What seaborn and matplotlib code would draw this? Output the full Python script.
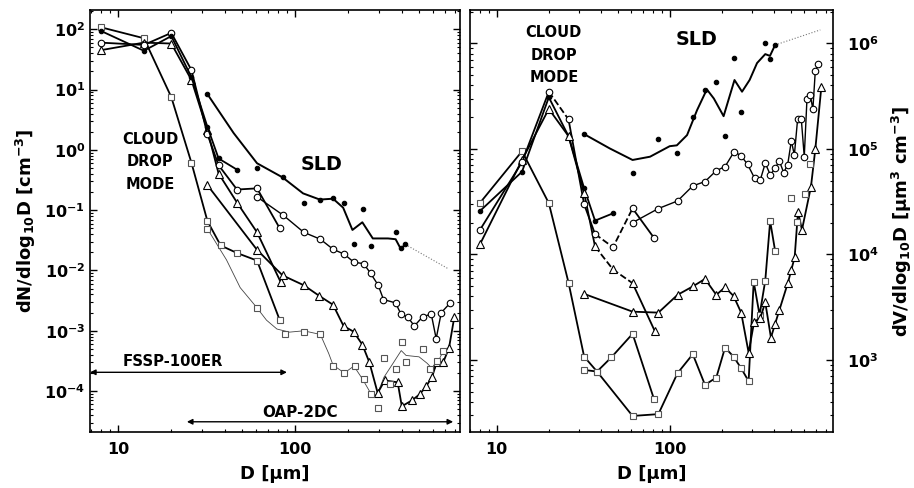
import matplotlib
matplotlib.use('Agg')
import matplotlib.pyplot as plt
import seaborn as sns
from matplotlib.ticker import NullFormatter, LogLocator

# ---------------- left panel: dN/dlog10D [cm^-3] ----------------
# FSSP (cloud drop mode) series
n_fssp_sq_d = [8, 14, 20, 26, 32, 38, 47, 61, 82]
n_fssp_sq = [108, 71, 7.5, 0.61, 0.066, 0.026, 0.0195, 0.0146, 0.0015]
n_fssp_tri_d = [8, 14, 20, 26, 32, 37, 47, 61, 83]
n_fssp_tri = [45, 60, 58, 14.4, 2.1, 0.405, 0.134, 0.043, 0.0064]
n_fssp_oc_d = [8, 14, 20, 26, 32, 37, 47, 61, 82]
n_fssp_oc = [60, 55, 87, 21, 1.82, 0.557, 0.22, 0.23, 0.05]
n_fssp_fc_d = [8, 14, 20, 26, 32, 37, 47]
n_fssp_fc = [94, 44, 77, 16, 2.4, 0.72, 0.47]

# OAP-2DC series
n_2dc_oc_d = [61, 86, 112, 139, 164, 190, 215, 244, 267, 295, 316, 370, 396,
              433, 472, 525, 588, 627, 670, 753]
n_2dc_oc = [0.166, 0.082, 0.043, 0.033, 0.0225, 0.0186, 0.0137, 0.013, 0.009,
            0.0057, 0.0033, 0.0029, 0.0019, 0.0017, 0.0012, 0.0017, 0.0019,
            0.00074, 0.002, 0.0029]
n_2dc_tri_d = [32, 61, 85, 112, 137, 164, 188, 214, 240, 263, 293, 321, 380,
               401, 457, 507, 550, 594, 631, 687, 741, 794]
n_2dc_tri = [0.26, 0.022, 0.0083, 0.0057, 0.0038, 0.0027, 0.0012, 0.00097,
             0.00059, 0.0003, 0.000093, 0.00015, 0.00014, 0.000056, 0.00007,
             0.000089, 0.00012, 0.00017, 0.0003, 0.0003, 0.00052, 0.0017]
n_2dc_sq_d = [32, 61, 88, 112, 139, 164, 190, 217, 244, 267, 293, 317, 343,
              371, 401, 423, 528, 579, 635, 687]
n_2dc_sq = [0.049, 0.0024, 0.00089, 0.00097, 0.00087, 0.00026, 0.0002,
            0.00026, 0.00016, 0.000089, 0.000052, 0.00035, 0.00013, 0.00023,
            0.00066, 0.0003, 0.00049, 0.00023, 0.00032, 0.00046]
n_2dc_sq_fit_d = [32, 41, 49, 61, 69, 79, 93, 112, 139, 155, 164, 190, 215,
                  240, 267, 290, 318, 358, 398, 424, 502, 557, 610, 668, 724]
n_2dc_sq_fit = [0.049, 0.015, 0.0052, 0.0024, 0.0015, 0.00107, 0.00095, 0.001,
                0.00087, 0.00042, 0.00027, 0.0002, 0.00026, 0.00016, 0.000093,
                0.000085, 0.00017, 0.00029, 0.00047, 0.00039, 0.00037,
                0.00029, 0.00022, 0.00039, 0.00052]
n_sld_d = [32, 61, 86, 113, 138, 164, 190, 214, 243, 267, 370, 395, 420]
n_sld = [8.4, 0.50, 0.36, 0.13, 0.15, 0.16, 0.13, 0.027, 0.105, 0.025, 0.043,
         0.024, 0.027]
n_sld_fit_d = [32, 45, 61, 85, 111, 138, 164, 187, 211, 240, 275, 335, 370,
               395, 420]
n_sld_fit = [8.4, 1.9, 0.6, 0.35, 0.19, 0.15, 0.155, 0.11, 0.047, 0.063,
             0.034, 0.034, 0.033, 0.023, 0.027]
n_sld_ext_d = [420, 733]
n_sld_ext = [0.027, 0.0107]

# ---------------- right panel: dV/dlog10D [um^3 cm^-3] ----------------
v_fssp_sq_d = [8, 14, 20, 26, 32, 38, 46, 61, 81]
v_fssp_sq = [30800, 95000, 30600, 5400, 1077, 777, 1060, 1770, 430]
v_fssp_tri_d = [8, 14, 20, 26, 32, 37, 47, 61, 82]
v_fssp_tri = [12500, 78500, 239000, 132000, 38400, 11900, 7200, 5340, 1880]
v_fssp_oc_d = [8, 14, 20, 26, 32, 37, 47, 61, 81]
v_fssp_oc = [17100, 75000, 348000, 190000, 29900, 15600, 11700, 27300, 14400]
v_fssp_fc_d = [8, 14, 20, 26, 32, 37, 47]
v_fssp_fc = [25800, 60800, 308000, 132000, 42400, 20900, 24500]

v_2dc_oc_d = [61, 86, 111, 136, 160, 186, 209, 236, 259, 282, 310, 334, 357,
              382, 407, 431, 456, 481, 505, 526, 549, 577, 600, 622, 650, 673,
              695, 721]
v_2dc_oc = [20000, 27200, 32100, 44600, 49000, 62200, 67900, 94200, 85700,
            71400, 52600, 50700, 73100, 56600, 65500, 76700, 59600, 70500,
            119000, 87400, 190000, 190000, 84300, 295000, 324000, 237000,
            547000, 632000]
v_2dc_tri_d = [32, 61, 86, 111, 137, 160, 186, 209, 234, 259, 286, 308, 334,
               357, 385, 407, 431, 483, 505, 528, 552, 582, 656, 695, 753]
v_2dc_tri = [4230, 2870, 2810, 4140, 5010, 5860, 4140, 4890, 4040, 2810, 1175,
             2310, 2490, 3520, 1630, 2200, 2980, 5410, 7130, 9400, 25400,
             17100, 43800, 99000, 383000]
v_2dc_sq_d = [32, 38, 61, 86, 111, 136, 160, 186, 209, 234, 259, 286, 306,
              331, 357, 381, 407]
v_2dc_sq = [805, 777, 295, 307, 750, 1135, 581, 682, 1310, 1076, 835, 630,
            5520, 2670, 5650, 20700, 10800]
v_2dc_sq_extra_d = [505, 547, 602, 650]
v_2dc_sq_extra = [34500, 20400, 37000, 71500]
v_sld_d = [32, 61, 86, 110, 136, 159, 186, 209, 236, 259, 357, 382, 407]
v_sld = [138000, 59600, 123000, 92000, 202000, 361000, 427000, 133000, 721000,
         225000, 1010000, 705000, 964000]
v_sld_fit_d = [32, 45, 61, 77, 100, 110, 126, 144, 164, 180, 205, 220, 237,
               262, 290, 320, 357, 380, 407]
v_sld_fit = [138000, 101000, 78500, 84300, 106000, 108000, 135000, 233000,
             366000, 300000, 204000, 300000, 449000, 348000, 450000, 650000,
             790000, 760000, 964000]
v_sld_ext_d = [407, 743]
v_sld_ext = [964000, 1340000]

x_ticks = [10, 100]
x_tick_labels = ['10', '100']
n_ticks = [1e2, 1e1, 1e0, 1e-1, 1e-2, 1e-3, 1e-4]
n_tick_labels = ['$10^{2}$', '$10^{1}$', '$10^{0}$', '$10^{-1}$',
                 '$10^{-2}$', '$10^{-3}$', '$10^{-4}$']
v_ticks = [1e3, 1e4, 1e5, 1e6]
v_tick_labels = ['$10^{3}$', '$10^{4}$', '$10^{5}$', '$10^{6}$']

sns.set_style('ticks')
plt.rcParams['font.family'] = ['DejaVu Sans']
plt.rcParams['font.weight'] = 'bold'
plt.rcParams['axes.labelweight'] = 'bold'
plt.rcParams['mathtext.fontset'] = 'custom'
plt.rcParams['mathtext.rm'] = 'DejaVu Sans:bold'
plt.rcParams['mathtext.bf'] = 'DejaVu Sans:bold'
plt.rcParams['mathtext.it'] = 'DejaVu Sans:bold'
plt.rcParams['mathtext.default'] = 'rm'
for key in ('text.color', 'axes.labelcolor', 'axes.edgecolor',
            'xtick.color', 'ytick.color'):
    plt.rcParams[key] = 'black'

fig = plt.figure(figsize=(9.14, 4.88), dpi=100)
ax1 = fig.add_axes([0.0985, 0.1148, 0.4048, 0.8648])
ax2 = fig.add_axes([0.5142, 0.1148, 0.3972, 0.8648])
for ax in (ax1, ax2):
    ax.set_xscale('log')
    ax.set_yscale('log')

MK = {
    'sq': dict(marker='s', markersize=4.3, markerfacecolor='white', markeredgecolor='#555555'),
    'tri': dict(marker='^', markersize=5.2, markerfacecolor='white', markeredgecolor='black'),
    'oc': dict(marker='o', markersize=4.7, markerfacecolor='white', markeredgecolor='black'),
    'fc': dict(marker='o', markersize=3.2, markerfacecolor='black', markeredgecolor='black'),
    None: dict(),
}


def line(ax, d, v, kind=None, ls='-', lw=1.3, color='black', z=3):
    sns.lineplot(x=d, y=v, ax=ax, sort=False, estimator=None, color=color,
                 linewidth=lw, linestyle=ls, markeredgewidth=0.8, zorder=z,
                 **MK[kind])


def segments(ax, d, v, kind, styles, lw=1.3):
    # styles: (start, end, linestyle) index ranges
    for i0, i1, ls in styles:
        line(ax, d[i0:i1 + 1], v[i0:i1 + 1], None, ls=ls, lw=lw)
    line(ax, d, v, kind, ls='none', z=4)


# ---- left panel ----
line(ax1, n_2dc_sq_fit_d, n_2dc_sq_fit, None, lw=0.6, color='#444444', z=2)
line(ax1, n_2dc_sq_d, n_2dc_sq, 'sq', ls='none', z=4)
line(ax1, n_fssp_sq_d, n_fssp_sq, 'sq')
line(ax1, n_fssp_tri_d, n_fssp_tri, 'tri')
line(ax1, n_fssp_oc_d, n_fssp_oc, 'oc')
line(ax1, n_fssp_fc_d, n_fssp_fc, 'fc')
line(ax1, n_2dc_tri_d, n_2dc_tri, 'tri')
line(ax1, n_2dc_oc_d, n_2dc_oc, 'oc', lw=1.0)
line(ax1, n_sld_fit_d, n_sld_fit, None, lw=1.4)
line(ax1, n_sld_d, n_sld, 'fc', ls='none', z=4)
line(ax1, n_sld_ext_d, n_sld_ext, None, ls=':', lw=0.8, color='#777777')

# ---- right panel ----
line(ax2, v_fssp_sq_d, v_fssp_sq, 'sq')
segments(ax2, v_fssp_tri_d, v_fssp_tri, 'tri', [(0, 5, '-'), (5, 7, '--'), (7, 8, '-')])
segments(ax2, v_fssp_oc_d, v_fssp_oc, 'oc',
         [(0, 2, '-'), (2, 3, '--'), (3, 5, '-'), (5, 7, '--'), (7, 8, '-')])
line(ax2, v_fssp_fc_d, v_fssp_fc, 'fc')
line(ax2, v_2dc_sq_d, v_2dc_sq, 'sq')
line(ax2, v_2dc_sq_extra_d, v_2dc_sq_extra, 'sq', ls='none', z=4)
line(ax2, v_2dc_tri_d, v_2dc_tri, 'tri')
line(ax2, v_2dc_oc_d, v_2dc_oc, 'oc', lw=1.0)
line(ax2, v_sld_fit_d, v_sld_fit, None, lw=1.4)
line(ax2, v_sld_d, v_sld, 'fc', ls='none', z=4)
line(ax2, v_sld_ext_d, v_sld_ext, None, ls=':', lw=0.8, color='#777777')

# ---- axes styling ----
for ax in (ax1, ax2):
    ax.set_xticks(x_ticks, labels=x_tick_labels)
    ax.xaxis.set_minor_locator(LogLocator(base=10, subs=range(2, 10), numticks=20))
    ax.yaxis.set_minor_locator(LogLocator(base=10, subs=range(2, 10), numticks=20))
    ax.xaxis.set_minor_formatter(NullFormatter())
    ax.yaxis.set_minor_formatter(NullFormatter())
    ax.tick_params(which='both', direction='in', top=True, right=True,
                   left=True, bottom=True, width=1, labelsize=11.5)
    ax.tick_params(which='major', length=5)
    ax.tick_params(which='minor', length=2.5, width=0.8)
    ax.tick_params(axis='x', pad=7)
    for s in ax.spines.values():
        s.set_linewidth(1.2)
    ax.set_xlabel('D [µm]', fontsize=13, fontweight='bold', labelpad=6)

ax1.set_yticks(n_ticks, labels=n_tick_labels)
ax1.set_xlim(6.95, 855)
ax1.set_ylim(2.1e-5, 209)
ax1.set_ylabel('dN/dlog$_{10}$D [cm$^{-3}$]', fontsize=13, fontweight='bold')

ax2.set_yticks(v_ticks, labels=v_tick_labels)
ax2.set_xlim(7.0, 880)
ax2.set_ylim(208, 2.07e6)
ax2.tick_params(axis='y', which='both', labelleft=False, labelright=True, pad=10)
ax2.yaxis.set_label_position('right')
ax2.set_ylabel('dV/dlog$_{10}$D [µm$^{3}$ cm$^{-3}$]', fontsize=13,
               fontweight='bold', labelpad=8)

# ---- annotations ----
ax1.text(0.162, 0.64, 'CLOUD\nDROP\nMODE', transform=ax1.transAxes, ha='center',
         va='center', fontsize=10.5, fontweight='bold', linespacing=1.6)
ax1.text(0.627, 0.633, 'SLD', transform=ax1.transAxes, ha='center', va='center',
         fontsize=13.8, fontweight='bold')
ax1.text(0.224, 0.166, 'FSSP-100ER', transform=ax1.transAxes, ha='center',
         va='center', fontsize=10.7, fontweight='bold')
ax1.text(0.568, 0.047, 'OAP-2DC', transform=ax1.transAxes, ha='center',
         va='center', fontsize=10.9, fontweight='bold')
arrow = dict(arrowstyle='<|-|>', color='black', lw=1.0, mutation_scale=8,
             shrinkA=0, shrinkB=0)
ax1.annotate('', xy=(6.95, 2.05e-4), xytext=(90, 2.05e-4), arrowprops=arrow)
ax1.annotate('', xy=(24.5, 3.1e-5), xytext=(782, 3.1e-5), arrowprops=arrow)

ax2.text(0.231, 0.893, 'CLOUD\nDROP\nMODE', transform=ax2.transAxes, ha='center',
         va='center', fontsize=10.5, fontweight='bold', linespacing=1.6)
ax2.text(0.625, 0.929, 'SLD', transform=ax2.transAxes, ha='center', va='center',
         fontsize=13.8, fontweight='bold')

fig.savefig('out.png', dpi=100)
